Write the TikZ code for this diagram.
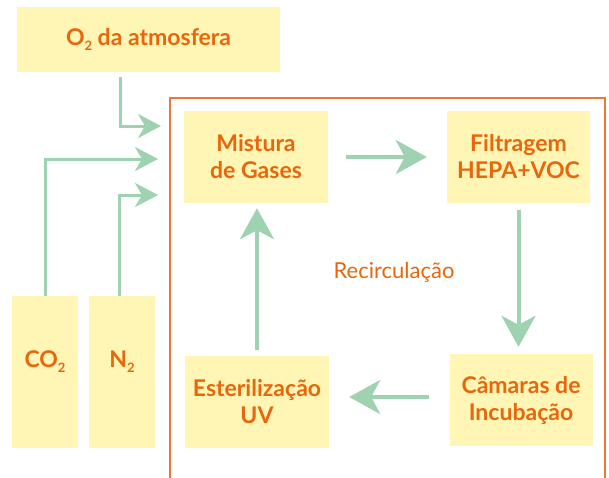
\documentclass[tikz,border=0pt]{standalone}
\usepackage{fontspec}
\setmainfont{Lato}
\usetikzlibrary{arrows.meta}
\definecolor{boxyellow}{RGB}{255, 245, 180}
\definecolor{txtorange}{RGB}{232, 102, 12}
\definecolor{framecol}{RGB}{236, 120, 60}
\definecolor{flowgreen}{RGB}{158, 210, 176}
\newcommand{\subtwo}{\raisebox{-5pt}{\fontsize{13}{13}\selectfont 2}}
\tikzset{
  stage/.style = {fill = boxyellow, text = txtorange, font = \fontsize{23}{27}\selectfont\bfseries,
    align = center, inner sep = 0, minimum width = 144, minimum height = 92},
  tank/.style = {stage, minimum width = 66, minimum height = 152, text depth = 26},
  flow/.style = {draw = flowgreen, line width = 4, -{Stealth[length = 31, width = 34, inset = 9]}},
  feed/.style = {draw = flowgreen, line width = 3, -{Stealth[length = 23, width = 24, inset = 7]}}
}
\begin{document}
\begin{tikzpicture}[x = 1pt, y = -1pt]
\useasboundingbox (0, 0) rectangle (609, 477);
% recirculation frame
\draw[framecol, line width = 1.3] (170, 478) |- (605, 98) -- (605, 478);
% boxes
\node[stage, minimum width = 263, minimum height = 65] (o2) at (148.5, 39.5) {O\subtwo{} da atmosfera};
\node[stage] (mix) at (256, 157) {Mistura\\de Gases};
\node[stage, minimum width = 143] (filt) at (518.5, 157) {Filtragem\\HEPA+VOC};
\node[stage, minimum width = 143] (cam) at (521, 400) {Câmaras de\\Incubação};
\node[stage] (ester) at (257, 402) {Esterilização\\UV};
\node[tank] (co2) at (45, 372) {CO\subtwo};
\node[tank] (n2) at (122, 372) {N\subtwo};
\node[text = txtorange, font = \fontsize{22}{24}\selectfont] (recirc) at (394, 272) {Recirculação};
% inlets
\coordinate (inO2) at (161, 126);
\coordinate (inCO2) at (158, 159);
\coordinate (inN2) at (158, 195);
\draw[feed] (o2.south) ++(-28.5, 5) |- (inO2);
\draw[feed] (co2.north) |- (inCO2);
\draw[feed] (n2.north) ++(-3, 0) |- (inN2);
% loop
\draw[flow, shorten <= 18, shorten >= 20] (mix.east) -- (filt.west);
\draw[flow, shorten <= 7, shorten >= 7] (filt.south) -- (filt.south |- cam.north);
\draw[flow, shorten <= 20, shorten >= 20] (cam.west |- 0, 397) -- (ester.east |- 0, 397);
\draw[flow, shorten <= 6, shorten >= 5] (ester.north) -- (ester.north |- mix.south);
\end{tikzpicture}
\end{document}
